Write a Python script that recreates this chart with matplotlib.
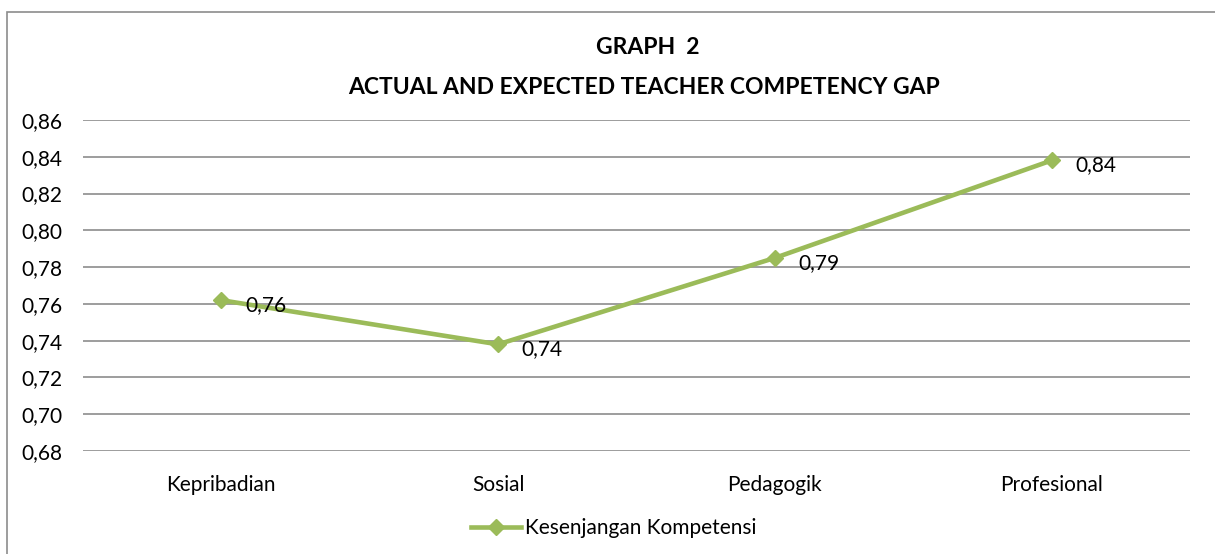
import matplotlib.pyplot as plt
from matplotlib.patches import Rectangle

categories = ['Kepribadian', 'Sosial', 'Pedagogik', 'Profesional']
gap = [0.762, 0.738, 0.785, 0.838]
labels = ['0,76', '0,74', '0,79', '0,84']
yticks = [0.68, 0.70, 0.72, 0.74, 0.76, 0.78, 0.80, 0.82, 0.84, 0.86]

plt.rcParams['font.family'] = ['Lato', 'DejaVu Sans']

fig = plt.figure(figsize=(12.15, 5.54), dpi=100)
ax = fig.add_axes([83 / 1215, 1 - 451 / 554, (1190 - 83) / 1215, (451 - 120) / 554])

# outer chart frame (only left and top visible in the original)
fig.patches.append(Rectangle((7 / 1215, -0.05), 1.1, 1 - 12 / 554 + 0.05,
                             transform=fig.transFigure, fill=False,
                             edgecolor='#8c8c8c', linewidth=1.2))

x = range(len(categories))
ax.plot(x, gap, color='#9BBB59', linewidth=3.3, marker='D', markersize=8.5,
        label='Kesenjangan Kompetensi')
for xi, v, t in zip(x, gap, labels):
    ax.annotate(t, (xi, v), xytext=(17, -3.5), textcoords='offset points',
                fontsize=15, ha='left', va='center')

ax.set_xlim(-0.5, 3.5)
ax.set_ylim(0.68, 0.86)
ax.set_yticks(yticks)
ax.set_yticklabels([f'{t:.2f}'.replace('.', ',') for t in yticks])
ax.set_xticks(list(x))
ax.set_xticklabels(categories)
ax.tick_params(axis='both', length=0, labelsize=15)
ax.tick_params(axis='y', pad=15)
ax.tick_params(axis='x', pad=17)
ax.yaxis.grid(True, color='#8c8c8c', linewidth=1.2)
ax.set_axisbelow(True)
for s in ax.spines.values():
    s.set_visible(False)

fig.text(648 / 1215, 1 - 48 / 554, 'GRAPH  2', ha='center', va='center',
         fontsize=16.5, fontweight='bold')
fig.text(644 / 1215, 1 - 87 / 554, 'ACTUAL AND EXPECTED TEACHER COMPETENCY GAP',
         ha='center', va='center', fontsize=16.5, fontweight='bold')

fig.legend(loc='center', bbox_to_anchor=(614 / 1215, 1 - 528 / 554), frameon=False,
           fontsize=15, handlelength=2.4, handletextpad=0.2)

fig.savefig('out.png', dpi=100)
